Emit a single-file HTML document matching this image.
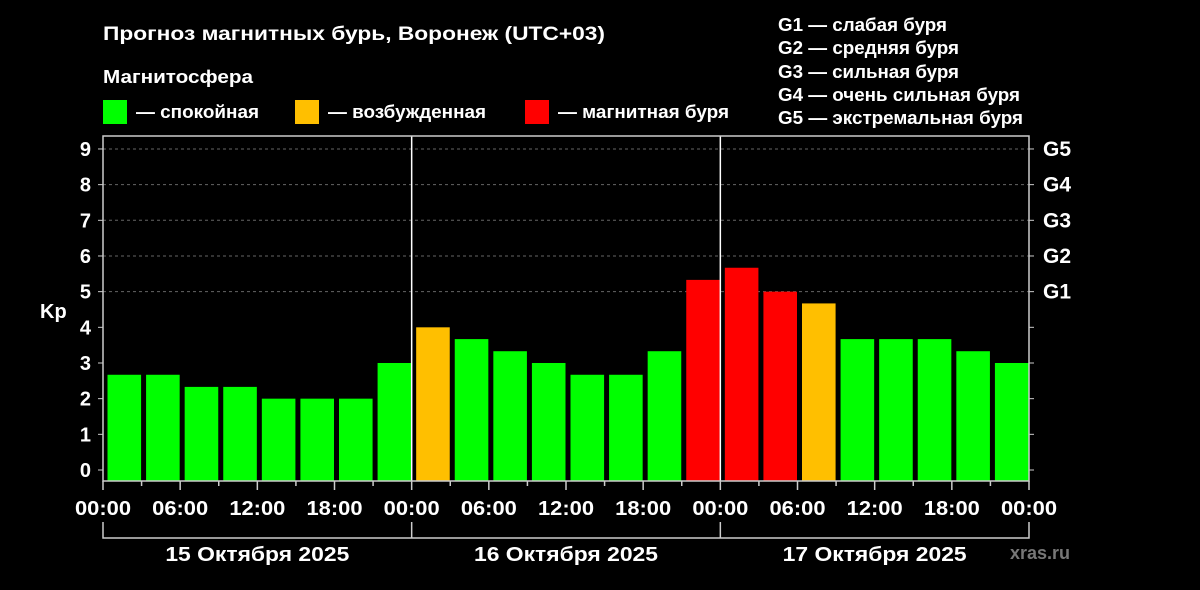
<!DOCTYPE html>
<html><head><meta charset="utf-8"><style>
body{margin:0;background:#000;width:1200px;height:585px;overflow:hidden;font-family:"Liberation Sans",sans-serif;color:#fff}
svg text{font-family:"Liberation Sans",sans-serif;font-weight:bold}
</style></head><body>
<svg id="c" width="1200" height="585">
<text x="103" y="40" font-size="19" textLength="502" lengthAdjust="spacingAndGlyphs" fill="#fff">Прогноз магнитных бурь, Воронеж (UTC+03)</text>
<text x="103" y="83" font-size="18" textLength="150" lengthAdjust="spacingAndGlyphs" fill="#fff">Магнитосфера</text>
<g><rect x="103" y="100" width="24" height="24" fill="#00ff00"/><text x="136" y="118" font-size="18" textLength="123" lengthAdjust="spacingAndGlyphs" fill="#fff">— спокойная</text></g>
<g><rect x="295" y="100" width="24" height="24" fill="#ffbf00"/><text x="328" y="118" font-size="18" textLength="158" lengthAdjust="spacingAndGlyphs" fill="#fff">— возбужденная</text></g>
<g><rect x="525" y="100" width="24" height="24" fill="#ff0000"/><text x="558" y="118" font-size="18" textLength="171" lengthAdjust="spacingAndGlyphs" fill="#fff">— магнитная буря</text></g>
<g font-size="18" fill="#fff">
<text x="778" y="31" textLength="169" lengthAdjust="spacingAndGlyphs">G1 — слабая буря</text><text x="778" y="54" textLength="181" lengthAdjust="spacingAndGlyphs">G2 — средняя буря</text><text x="778" y="78" textLength="181" lengthAdjust="spacingAndGlyphs">G3 — сильная буря</text><text x="778" y="101" textLength="242" lengthAdjust="spacingAndGlyphs">G4 — очень сильная буря</text><text x="778" y="124" textLength="245" lengthAdjust="spacingAndGlyphs">G5 — экстремальная буря</text></g>
<text x="40" y="318" font-size="20" fill="#fff">Kp</text>
<text x="1010" y="559" font-size="18" fill="#777">xras.ru</text>
<g id="plot"></g>
</svg>
<script>
const kpValues=[2.67,2.67,2.33,2.33,2,2,2,3,4,3.67,3.33,3,2.67,2.67,3.33,5.33,5.67,5,4.67,3.67,3.67,3.67,3.33,3];
const kpColors=["g","g","g","g","g","g","g","g","y","g","g","g","g","g","g","r","r","r","y","g","g","g","g","g"];
const yTicks=[0,1,2,3,4,5,6,7,8,9];
const gLabels=["G1","G2","G3","G4","G5"];
const xLabels=["00:00","06:00","12:00","18:00","00:00","06:00","12:00","18:00","00:00","06:00","12:00","18:00","00:00"];
const dayLabels=["15 Октября 2025","16 Октября 2025","17 Октября 2025"];
const L=103,R=1029,T=136,B=481,n=kpValues.length,slot=(R-L)/n;
const y=v=>470-v*35.67, x=i=>L+i*slot;
const col={g:"#00ff00",y:"#ffbf00",r:"#ff0000"};
const p=document.getElementById('plot');const NS="http://www.w3.org/2000/svg";
function mk(t,a,par){const e=document.createElementNS(NS,t);for(const k in a)e.setAttribute(k,a[k]);(par||p).appendChild(e);return e;}
yTicks.forEach(v=>{
 if(v>=5){const g=mk('line',{x1:L,x2:R,y1:y(v),y2:y(v),stroke:'#666','stroke-dasharray':'3,3','stroke-width':1});
 
 }
 mk('line',{x1:L-5,x2:L,y1:y(v),y2:y(v),stroke:'#ccc'});
 mk('line',{x1:R,x2:R+5,y1:y(v),y2:y(v),stroke:'#ccc'});
 const t=mk('text',{x:L-12,y:y(v)+7,'font-size':20,fill:'#fff','text-anchor':'end'});t.textContent=v;
 
 
});
gLabels.forEach((g,i)=>{const t=mk('text',{x:R+14,y:y(i+5)+7,'font-size':21,fill:'#fff'});t.textContent=g;
 
 });
kpValues.forEach((v,i)=>{const r=mk('rect',{x:x(i)+4.5,y:y(v),width:slot-5,height:B-y(v),fill:col[kpColors[i]]});
 
 });
[8,16].forEach(i=>{const l=mk('line',{x1:x(i),x2:x(i),y1:T,y2:B,stroke:'#fff','stroke-width':1.5});
 
 });
const fr=mk('rect',{x:L,y:T,width:R-L,height:B-T,fill:'none',stroke:'#ccc','stroke-width':1.5});


for(let i=0;i<=n;i++){mk('line',{x1:x(i),x2:x(i),y1:B,y2:B+(i%2?5:9),stroke:'#ccc','stroke-width':1.5});}
xLabels.forEach((s,i)=>{const t=mk('text',{x:x(i*2),y:515,'font-size':20,fill:'#fff','text-anchor':'middle',textLength:56,lengthAdjust:'spacingAndGlyphs'});t.textContent=s;
 
 });
mk('polyline',{points:`${L},522 ${L},538 ${R},538 ${R},522`,fill:'none',stroke:'#ccc','stroke-width':1.5});
[1,2].forEach(k=>mk('line',{x1:x(k*8),x2:x(k*8),y1:538,y2:522,stroke:'#ccc','stroke-width':1.5}));
dayLabels.forEach((s,i)=>{const t=mk('text',{x:x(i*8+4),y:561,'font-size':20,fill:'#fff','text-anchor':'middle',textLength:184,lengthAdjust:'spacingAndGlyphs'});t.textContent=s;
 
 });
</script>
</body></html>
